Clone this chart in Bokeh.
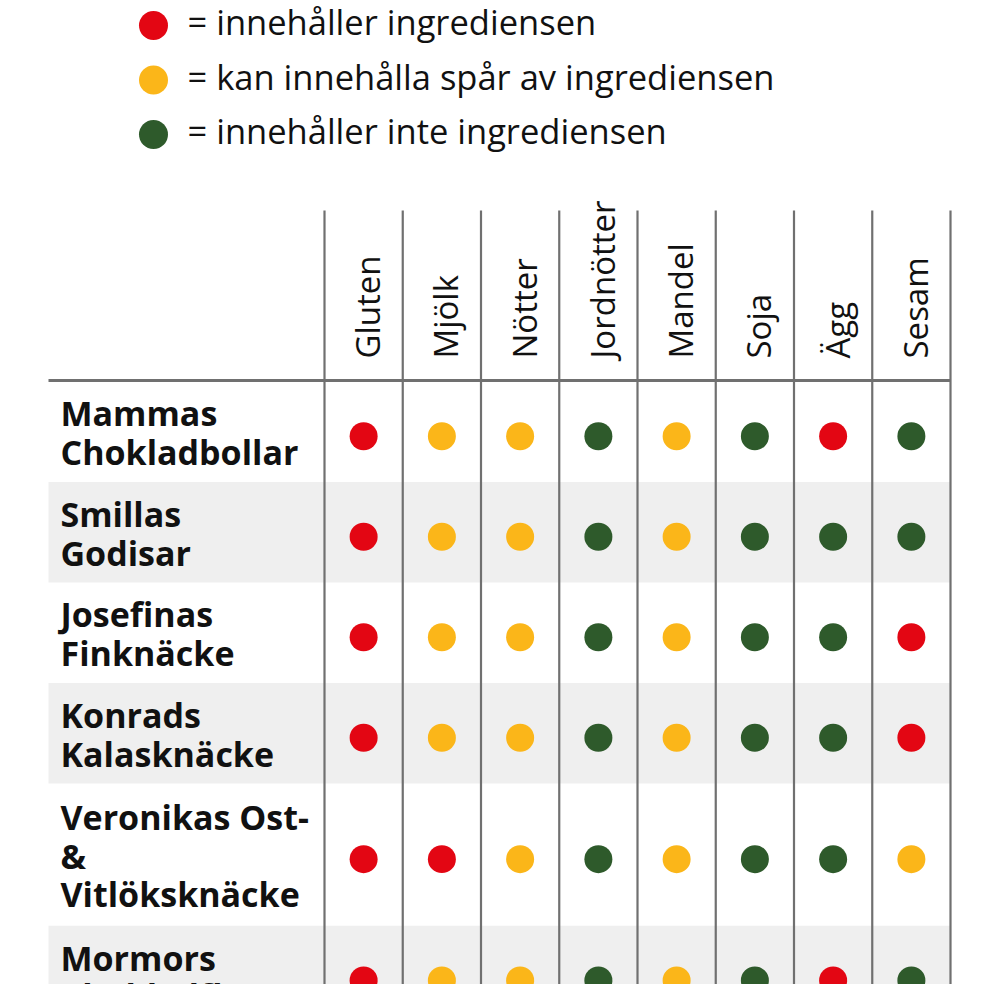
import math
from bokeh.plotting import figure
from bokeh.models import Range1d
from bokeh.core.properties import value
from bokeh.embed import file_html
from bokeh.resources import INLINE

# ---------------- data ----------------
legend_labels = ["= innehåller ingrediensen",
                 "= kan innehålla spår av ingrediensen",
                 "= innehåller inte ingrediensen"]
legend_codes = ["R", "Y", "G"]

allergens = ["Gluten", "Mjölk", "Nötter", "Jordnötter", "Mandel", "Soja", "Ägg", "Sesam"]

products = ["Mammas\nChokladbollar",
            "Smillas\nGodisar",
            "Josefinas\nFinknäcke",
            "Konrads\nKalasknäcke",
            "Veronikas Ost-\n&\nVitlöksknäcke",
            "Mormors\nChokladflarn"]

status = [
    ["R", "Y", "Y", "G", "Y", "G", "R", "G"],
    ["R", "Y", "Y", "G", "Y", "G", "G", "G"],
    ["R", "Y", "Y", "G", "Y", "G", "G", "R"],
    ["R", "Y", "Y", "G", "Y", "G", "G", "R"],
    ["R", "R", "Y", "G", "Y", "G", "G", "Y"],
    ["R", "Y", "Y", "G", "Y", "G", "R", "G"],
]

colors = {"R": "#e30613", "Y": "#fbb619", "G": "#2e5a2b"}

# ---------------- layout ----------------
LEFT = 48
COL0 = 324
COL_W = 78.25
HEAD_TOP = 210
HEAD_LINE = 380
ROW_TOP = 381
ncols = len(allergens)
RIGHT = COL0 + ncols * COL_W

FONT = "Open Sans"

p = figure(width=984, height=984, x_range=Range1d(0, 984), y_range=Range1d(984, 0),
           output_backend="svg", toolbar_location=None, min_border=0)
p.axis.visible = False
p.grid.visible = False
p.outline_line_color = None
p.background_fill_color = "white"
p.border_fill_color = "white"

# rows geometry
row_tops, row_bots = [], []
y = ROW_TOP
for name in products:
    n = name.count("\n") + 1
    h = 17 + 41.75 * n
    row_tops.append(y)
    row_bots.append(y + h)
    y += h
row_centers = [(a + b) / 2 for a, b in zip(row_tops, row_bots)]

# alternating bands
band_idx = [i for i in range(len(products)) if i % 2 == 1]
p.quad(left=[LEFT] * len(band_idx), right=[RIGHT] * len(band_idx),
       top=[row_tops[i] for i in band_idx], bottom=[row_bots[i] for i in band_idx],
       fill_color="#efefef", line_color=None)

# vertical column lines
col_lines = [COL0 + i * COL_W for i in range(ncols + 1)]
p.segment(x0=col_lines, x1=col_lines, y0=[HEAD_TOP] * len(col_lines), y1=[1000] * len(col_lines),
          line_color="#707070", line_width=2.2)

# header horizontal line
p.segment(x0=[LEFT], x1=[RIGHT], y0=[HEAD_LINE], y1=[HEAD_LINE], line_color="#707070", line_width=3)

# column headers (rotated)
col_centers = [COL0 + (i + 0.5) * COL_W for i in range(ncols)]
p.text(x=[c + 4 for c in col_centers], y=[358] * ncols, text=allergens, angle=math.pi / 2,
       text_align="left", text_baseline="alphabetic", text_font=value(FONT),
       text_font_size="33px", text_color="#111111")

# row labels
p.text(x=[60] * len(products), y=[c + 1 for c in row_centers], text=products,
       text_align="left", text_baseline="middle", text_font=value(FONT),
       text_font_style="bold", text_font_size="34px", text_line_height=0.84,
       text_color="#111111")

# dots
xs, ys, cs = [], [], []
for r, row in enumerate(status):
    for c, code in enumerate(row):
        xs.append(col_centers[c])
        ys.append(row_centers[r] + 4.5)
        cs.append(colors[code])
p.scatter(x=xs, y=ys, size=28, fill_color=cs, line_color=None)

# legend
leg_y = [25 + 54.5 * i for i in range(len(legend_labels))]
p.scatter(x=[153] * len(leg_y), y=leg_y, size=29, fill_color=[colors[c] for c in legend_codes],
          line_color=None)
p.text(x=[187] * len(leg_y), y=[v - 4 for v in leg_y], text=legend_labels,
       text_align="left", text_baseline="alphabetic", text_font=value(FONT),
       text_font_size="34.5px", text_color="#111111")

open("out.html", "w").write(file_html(p, INLINE))
